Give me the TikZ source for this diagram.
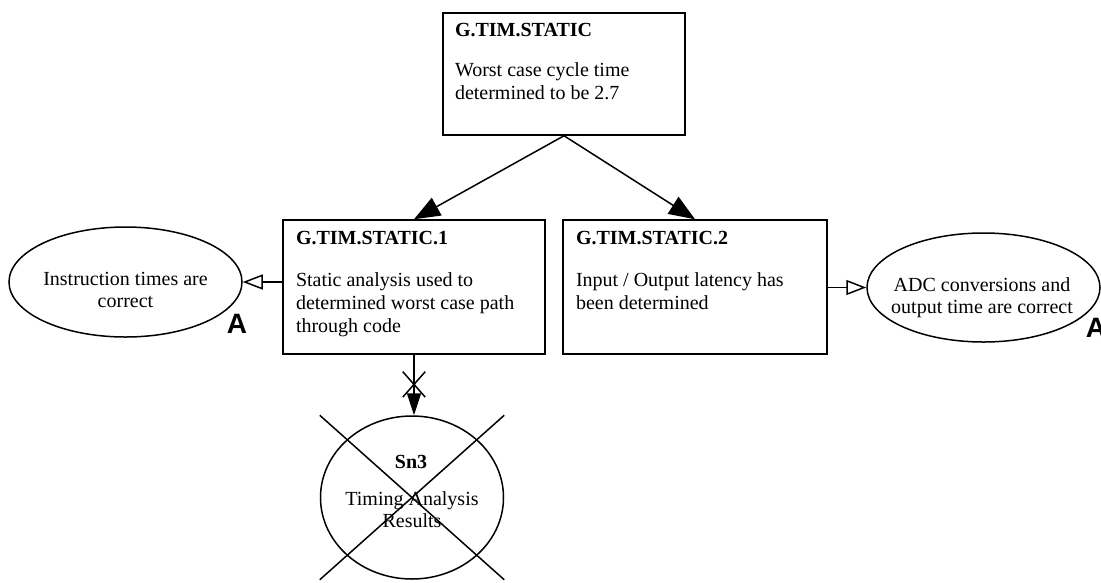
\documentclass[tikz,border=0pt]{standalone}
\usepackage{fontspec}
\setmainfont{Liberation Serif}
\newfontfamily\flagfont{Liberation Sans}
\usetikzlibrary{arrows.meta,shapes.geometric,shapes.misc,calc}

% stacked lines whose baseline is that of the first line
\newcommand\leftrows[1]{\begin{tabular}[t]{@{}l@{}}#1\end{tabular}}
\newcommand\centrows[1]{\begin{tabular}[t]{@{}c@{}}#1\end{tabular}}

\begin{document}
\begin{tikzpicture}[x=1pt,y=-1pt,
  line width=1.5pt,
  goalbox/.style={draw, rectangle, inner sep=0pt},
  ctxoval/.style={draw, ellipse, inner sep=0pt},
  bodytext/.style={inner sep=0pt, font=\fontsize{20}{23}\selectfont},
  ovaltext/.style={inner sep=0pt, font=\fontsize{20}{22}\selectfont},
  headtext/.style={inner sep=0pt, font=\fontsize{20}{23}\selectfont\bfseries},
  solves/.style={-{Triangle[length=26pt,width=20pt]}},
  solvesdown/.style={-{Triangle[length=22pt,width=14pt]}},
  incontext/.style={-{Triangle[open,length=20pt,width=15pt]}},
  flag/.style={inner sep=0pt, font=\flagfont\bfseries\fontsize{28}{28}\selectfont},
]
\useasboundingbox (0,0) rectangle (1101,582);

% goals
\node[goalbox, minimum width=242pt, minimum height=122pt] (t)  at (564,74)  {};
\node[goalbox, minimum width=262pt, minimum height=134pt] (b1) at (414,287) {};
\node[goalbox, minimum width=264pt, minimum height=134pt] (b2) at (695,287) {};

\node[headtext, anchor=base west] (t-h) at ($(t.north west)+(12,24)$) {G.TIM.STATIC};
\node[bodytext, anchor=base west] (t-b) at ($(t.north west)+(12,64)$)
  {\leftrows{Worst case cycle time\\determined to be 2.7}};

\node[headtext, anchor=base west] (b1-h) at ($(b1.north west)+(13,25)$) {G.TIM.STATIC.1};
\node[bodytext, anchor=base west] (b1-b) at ($(b1.north west)+(13,67)$)
  {\leftrows{Static analysis used to\\determined worst case path\\through code}};

\node[headtext, anchor=base west] (b2-h) at ($(b2.north west)+(13,25)$) {G.TIM.STATIC.2};
\node[bodytext, anchor=base west] (b2-b) at ($(b2.north west)+(13,67)$)
  {\leftrows{Input / Output latency has\\been determined}};

% contexts
\node[ctxoval, minimum width=233pt, minimum height=110pt] (le) at (125.5,282) {};
\node[ovaltext, anchor=base] (le-t) at ($(le.center)+(0,3)$)
  {\centrows{Instruction times are\\correct}};

\node[ctxoval, minimum width=233pt, minimum height=109pt] (re) at (983.5,287.5) {};
\node[ovaltext, anchor=base] (re-t) at ($(re.center)+(-1.5,3.5)$)
  {\centrows{ADC conversions and\\output time are correct}};

% solution
\node[ctxoval, minimum width=183pt, minimum height=163pt] (sn) at (412,497.5) {};
\node[headtext, anchor=base] (sn-h) at ($(sn.center)+(-1,-29.5)$) {Sn3};
\node[ovaltext, anchor=base] (sn-b) at ($(sn.center)+(0,7.5)$)
  {\centrows{Timing Analysis\\Results}};
\draw (sn.north -| sn.west) -- (sn.south -| sn.east);
\draw (sn.north -| sn.east) -- (sn.south -| sn.west);

% away-goal flags
\node[flag, anchor=base west] (aL) at (226,333) {A};
\node[flag, anchor=base west] (aR) at (1085,337) {A};

% connectors
\draw[solves] (t.south) -- (b1.north);
\draw[solves] (t.south) -- (b2.north);
\draw[incontext] (le.east -| b1.west) -- (le.east);
\draw[incontext] (re.west -| b2.east) -- (re.west);
\draw[solvesdown] (b1.south) -- (b1.south |- sn.north)
  node[pos=0.49, cross out, draw, minimum width=21pt, minimum height=24pt, inner sep=0pt] (nx) {};
\end{tikzpicture}
\end{document}
